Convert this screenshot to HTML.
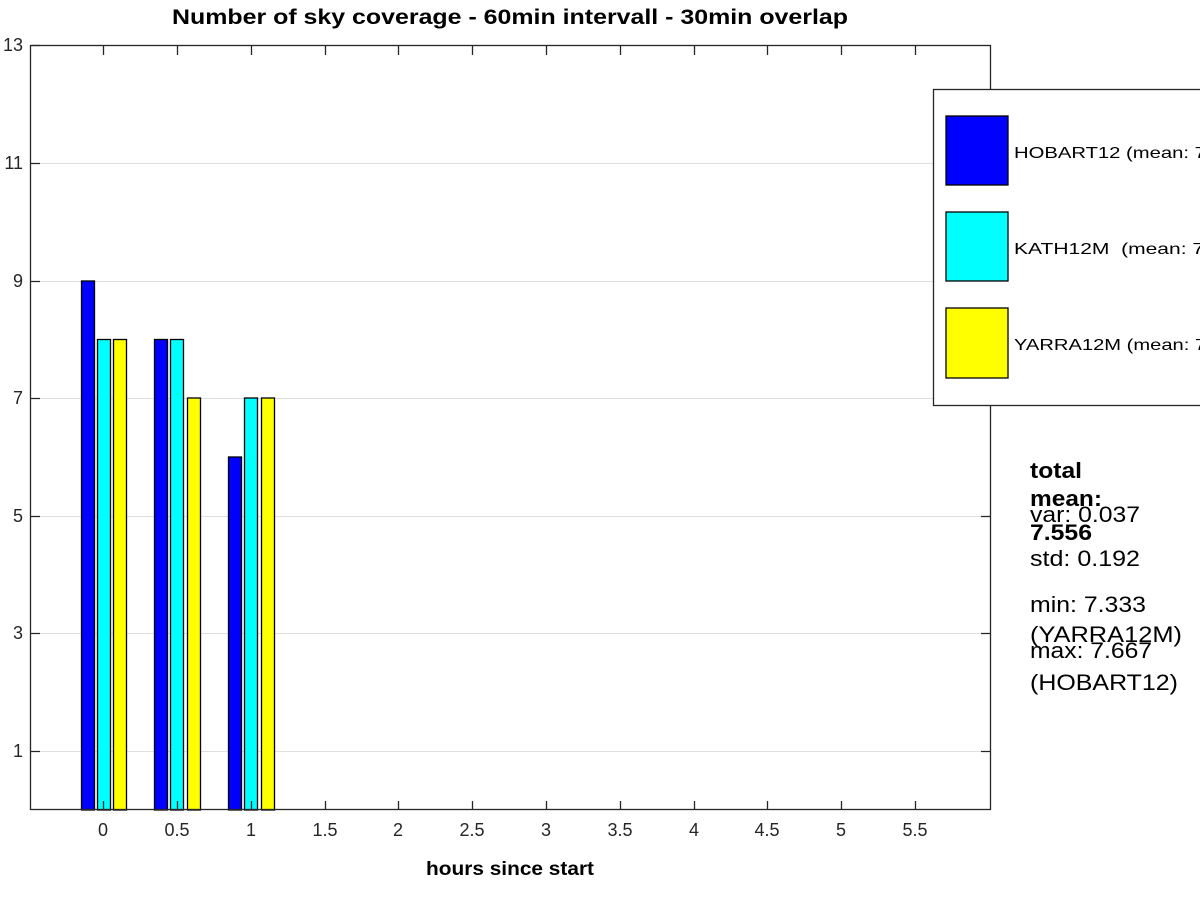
<!DOCTYPE html>
<html><head><style>body{margin:0;background:#fff}svg{display:block}</style></head><body>
<svg width="1200" height="900" xmlns="http://www.w3.org/2000/svg" font-family="Liberation Sans, sans-serif">
<rect width="1200" height="900" fill="#fff"/>
<g stroke="#dedede" stroke-width="1">
<line x1="31" x2="990" y1="751.5" y2="751.5"/><line x1="31" x2="990" y1="633.5" y2="633.5"/>
<line x1="31" x2="990" y1="516.5" y2="516.5"/><line x1="31" x2="990" y1="398.5" y2="398.5"/>
<line x1="31" x2="990" y1="281.5" y2="281.5"/><line x1="31" x2="990" y1="163.5" y2="163.5"/>
</g>
<g stroke="#000" stroke-width="1.3">
<rect x="81.5" y="281" width="13" height="529" fill="#0000ff"/>
<rect x="97.5" y="339.5" width="13" height="470.5" fill="#00ffff"/>
<rect x="113.5" y="339.5" width="13" height="470.5" fill="#ffff00"/>
<rect x="154.5" y="339.5" width="13" height="470.5" fill="#0000ff"/>
<rect x="170.5" y="339.5" width="13" height="470.5" fill="#00ffff"/>
<rect x="187.5" y="398" width="13" height="412" fill="#ffff00"/>
<rect x="228.5" y="457" width="13" height="353" fill="#0000ff"/>
<rect x="244.5" y="398" width="13" height="412" fill="#00ffff"/>
<rect x="261.5" y="398" width="13" height="412" fill="#ffff00"/>
</g>
<g stroke="#262626" stroke-width="1.3" fill="none">
<rect x="30.5" y="45.5" width="960" height="764"/>
<path d="M31 751.5h9M31 633.5h9M31 516.5h9M31 398.5h9M31 281.5h9M31 163.5h9M31 45.5h9
M990 751.5h-9M990 633.5h-9M990 516.5h-9M990 398.5h-9M990 281.5h-9M990 163.5h-9"/>
<path d="M103.5 810v-9M177.5 810v-9M251.5 810v-9M325.5 810v-9M398.5 810v-9M472.5 810v-9M546.5 810v-9M620.5 810v-9M694.5 810v-9M767.5 810v-9M841.5 810v-9M915.5 810v-9
M103.5 46v9M177.5 46v9M251.5 46v9M325.5 46v9M398.5 46v9M472.5 46v9M546.5 46v9M620.5 46v9M694.5 46v9M767.5 46v9M841.5 46v9M915.5 46v9"/>
</g>
<g font-size="18" fill="#262626" text-anchor="end">
<text x="23" y="757">1</text><text x="23" y="639">3</text><text x="23" y="522">5</text>
<text x="23" y="404">7</text><text x="23" y="287">9</text><text x="23" y="169">11</text><text x="23" y="51">13</text>
</g>
<g font-size="18" fill="#262626" text-anchor="middle">
<text x="103" y="836">0</text><text x="177" y="836">0.5</text><text x="251" y="836">1</text>
<text x="325" y="836">1.5</text><text x="398" y="836">2</text><text x="472" y="836">2.5</text>
<text x="546" y="836">3</text><text x="620" y="836">3.5</text><text x="694" y="836">4</text>
<text x="767" y="836">4.5</text><text x="841" y="836">5</text><text x="915" y="836">5.5</text>
</g>
<text x="426" y="875" font-size="19" font-weight="bold" fill="#000" textLength="168" lengthAdjust="spacingAndGlyphs">hours since start</text>
<text x="172" y="24" font-size="21" font-weight="bold" fill="#000" textLength="676" lengthAdjust="spacingAndGlyphs">Number of sky coverage - 60min intervall - 30min overlap</text>
<rect x="933.5" y="89.5" width="280" height="316" fill="#fff" stroke="#262626" stroke-width="1.3"/>
<g stroke="#000" stroke-width="1.3">
<rect x="946" y="116" width="62" height="69" fill="#0000ff"/>
<rect x="946" y="212" width="62" height="69" fill="#00ffff"/>
<rect x="946" y="308" width="62" height="70" fill="#ffff00"/>
</g>
<g font-size="16" fill="#000">
<text x="1014" y="158" textLength="238" lengthAdjust="spacingAndGlyphs">HOBART12 (mean: 7.667)</text>
<text x="1014" y="254" xml:space="preserve" textLength="238" lengthAdjust="spacingAndGlyphs">KATH12M  (mean: 7.667)</text>
<text x="1014" y="350" textLength="238" lengthAdjust="spacingAndGlyphs">YARRA12M (mean: 7.333)</text>
</g>
<g font-size="22" fill="#000">
<text x="1030" y="478" font-weight="bold" textLength="52" lengthAdjust="spacingAndGlyphs">total</text>
<text x="1030" y="506" font-weight="bold" textLength="72" lengthAdjust="spacingAndGlyphs">mean:</text>
<text x="1030" y="540" font-weight="bold" textLength="62" lengthAdjust="spacingAndGlyphs">7.556</text>
<text x="1030" y="522" textLength="110" lengthAdjust="spacingAndGlyphs">var: 0.037</text>
<text x="1030" y="566" textLength="110" lengthAdjust="spacingAndGlyphs">std: 0.192</text>
<text x="1030" y="612" textLength="116" lengthAdjust="spacingAndGlyphs">min: 7.333</text>
<text x="1030" y="642" textLength="152" lengthAdjust="spacingAndGlyphs">(YARRA12M)</text>
<text x="1030" y="658" textLength="122" lengthAdjust="spacingAndGlyphs">max: 7.667</text>
<text x="1030" y="690" textLength="148" lengthAdjust="spacingAndGlyphs">(HOBART12)</text>
</g>
</svg>
</body></html>
